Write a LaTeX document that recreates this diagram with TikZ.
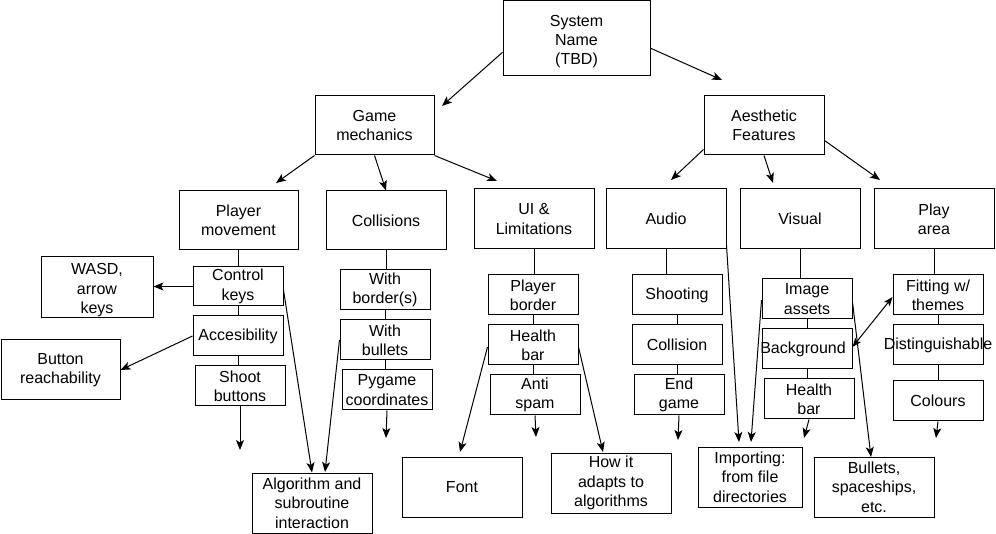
\documentclass[tikz,border=0pt]{standalone}
\usepackage{fontspec}
\setmainfont{Liberation Sans}
\usetikzlibrary{arrows.meta,calc}
\tikzset{
  box/.style={draw, line width=1pt, inner sep=0pt, align=center,
    font=\fontsize{16}{19.4}\selectfont},
  conn/.style={line width=1pt},
  arr/.style={line width=1pt, -{Stealth[length=10pt,width=8pt,inset=2.5pt]}},
  darr/.style={line width=1pt, {Stealth[length=9pt,width=7pt,inset=2pt]}-{Stealth[length=9pt,width=7pt,inset=2pt]}}
}
\newcommand{\bx}[6]{\node[box, minimum width={(#4-#2)*1pt}, minimum height={(#5-#3)*1pt}] (#1) at ({(#2+#4)/2},{(#3+#5)/2}) {#6};}
\newcommand{\dn}{\rule{0pt}{18pt}}
\begin{document}
\begin{tikzpicture}[x=1pt,y=-1pt]
\useasboundingbox (0,0) rectangle (996,534);
% level 0-1
\bx{sys}{503}{0.5}{650}{76}{\dn System\\Name\\(TBD)}
\bx{gm}{315}{96}{434}{155}{Game\\mechanics}
\bx{af}{704}{96}{824}{155}{Aesthetic\\Features}
% level 2
\bx{pm}{179}{191}{298}{250}{Player\\movement}
\bx{col}{326}{191}{446}{250}{Collisions}
\bx{ui}{474}{189}{594}{249}{UI \&\\Limitations}
\bx{aud}{606}{189}{726}{249}{Audio}
\bx{vis}{740}{189}{860}{249}{Visual}
\bx{pa}{874}{189}{994}{249}{Play\\area}
% player movement column
\bx{wasd}{41}{259}{153}{315}{\dn WASD,\\arrow\\keys}
\bx{ck}{193}{267}{283}{306}{Control\\keys}
\bx{acc}{193}{316}{283}{356}{Accesibility}
\bx{sb}{195}{366}{285}{406}{Shoot\\buttons}
\bx{br}{1}{340}{120}{400}{Button\\reachability}
% collisions column
\bx{wb}{340}{270}{430}{310}{With\\border(s)}
\bx{wbu}{340}{320}{430}{360}{With\\bullets}
\bx{pyg}{342}{370}{432}{410}{Pygame\\coordinates}
\bx{alg}{252}{473}{372}{533}{Algorithm and\\subroutine\\interaction}
% UI column
\bx{pb}{488}{275}{578}{315}{Player\\border}
\bx{hba}{488}{325}{578}{365}{Health\\bar}
\bx{as}{490}{375}{580}{415}{Anti\\spam}
\bx{font}{402}{457}{522}{517}{Font}
\bx{how}{551}{453}{671}{513}{How it\\adapts to\\algorithms}
% audio column
\bx{sh}{632}{275}{722}{315}{Shooting}
\bx{coll}{632}{325}{722}{365}{Collision}
\bx{eg}{634}{375}{724}{415}{End\\game}
\bx{imp}{698}{447}{802}{507}{Importing:\\from file\\directories}
% visual column
\bx{ia}{762}{279}{852}{319}{Image\\assets}
\bx{bg}{762}{329}{852}{369}{\makebox[0pt][c]{\hspace*{-8pt}Background}}
\bx{hbb}{764}{379}{854}{419}{Health\\bar}
\bx{bul}{814}{457}{934}{517}{Bullets,\\spaceships,\\etc.}
% play area column
\bx{fit}{893}{275}{983}{315}{Fitting w/\\themes}
\bx{dis}{893}{325}{983}{365}{\makebox[0pt][c]{Distinguishable}}
\bx{clr}{893}{381}{983}{421}{Colours}
% free ends
\coordinate (e1) at (442,106);
\coordinate (e2) at (722,80);
\coordinate (e3) at (276,183);
\coordinate (e5) at (497,181);
\coordinate (e6) at (671,180);
\coordinate (e7) at (773,183);
\coordinate (e8) at (880,180);
\coordinate (e11) at (240,450);
\coordinate (e15) at (325,472);
\coordinate (e17) at (386,438);
\coordinate (e19) at (536,437);
\coordinate (e20) at (460,452);
\coordinate (e21) at (603,452);
\coordinate (e23) at (678,440);
\coordinate (e24) at (739,442);
\coordinate (e25) at (751,442);
\coordinate (e27) at (804,438);
\coordinate (e28) at (871,457);
\coordinate (e31) at (936,438);
% top arrows
\draw[arr] ($(sys.north west)!0.684!(sys.south west)$) -- (e1);
\draw[arr] ($(sys.north east)!0.63!(sys.south east)$) -- (e2);
\draw[arr] (gm.south west) -- (e3);
\draw[arr] (gm.south) -- (col.north);
\draw[arr] (gm.south east) -- (e5);
\draw[arr] ($(af.north west)!0.9!(af.south west)$) -- (e6);
\draw[arr] (af.south) -- (e7);
\draw[arr] ($(af.north east)!0.75!(af.south east)$) -- (e8);
% player movement
\draw[conn] (pm.south) -- (pm.south |- ck.north);
\draw[conn] (ck.south) -- (acc.north);
\draw[conn] (acc.south) -- (acc.south |- sb.north);
\draw[arr] (sb.south) -- (e11);
\draw[arr] (ck.west) -- (ck.west -| wasd.east);
\draw[arr] (acc.west) -- (br.east);
\draw[arr] ($(ck.north east)!0.59!(ck.south east)$) -- (alg.north);
\draw[arr] (wbu.west) -- (e15);
% collisions
\draw[conn] (col.south) -- (col.south |- wb.north);
\draw[conn] (wb.south) -- (wbu.north);
\draw[conn] (wbu.south) -- (wbu.south |- pyg.north);
\draw[arr] (pyg.south) -- (e17);
% UI
\draw[conn] (ui.south) -- (ui.south |- pb.north);
\draw[conn] (pb.south) -- (hba.north);
\draw[conn] (hba.south) -- (hba.south |- as.north);
\draw[arr] (as.south) -- (e19);
\draw[arr] ($(hba.north west)!0.55!(hba.south west)$) -- (e20);
\draw[arr] ($(hba.north east)!0.55!(hba.south east)$) -- (e21);
% audio
\draw[conn] (aud.south) -- (aud.south |- sh.north);
\draw[conn] (sh.south) -- (coll.north);
\draw[conn] (coll.south) -- (coll.south |- eg.north);
\draw[arr] (eg.south) -- (e23);
\draw[arr] ($(aud.north east)!0.93!(aud.south east)$) -- (e24);
% visual
\draw[conn] (vis.south) -- (vis.south |- ia.north);
\draw[conn] (ia.south) -- (bg.north);
\draw[conn] (bg.south) -- (bg.south |- hbb.north);
\draw[arr] (hbb.south) -- (e27);
\draw[arr] ($(ia.north west)!0.525!(ia.south west)$) -- (e25);
\draw[arr] ($(ia.north east)!0.575!(ia.south east)$) -- (e28);
\draw[darr] ($(bg.north east)!0.45!(bg.south east)$) -- ($(fit.north west)!0.55!(fit.south west)$);
% play area
\draw[conn] (pa.south) -- (pa.south |- fit.north);
\draw[conn] (fit.south) -- (dis.north);
\draw[conn] (dis.south) -- (clr.north);
\draw[arr] (clr.south) -- (e31);
\end{tikzpicture}
\end{document}
